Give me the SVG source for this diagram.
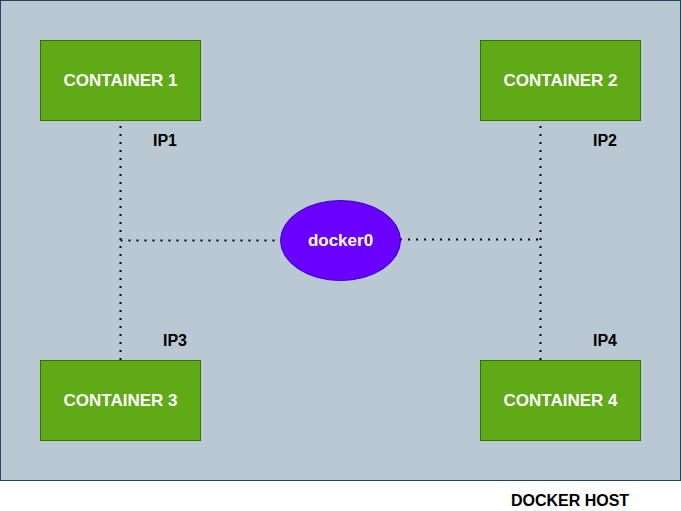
<svg xmlns="http://www.w3.org/2000/svg" width="681" height="511" viewBox="0 0 681 511">
<style>
text{font-family:"Liberation Sans",Arial,sans-serif;font-weight:bold;font-size:16px;text-anchor:middle;dominant-baseline:central}
.box{fill:#60a917;stroke:#2d7600;stroke-width:1}
.w{fill:#ffffff;font-size:17px}
.k{fill:#000000}
.dot{fill:none;stroke:#000000;stroke-width:2;stroke-dasharray:2 6}
</style>
<rect id="host" x="0.5" y="0.5" width="680" height="480" fill="#bac8d3" stroke="#23445d"/>
<g id="connectors">
<path class="dot" d="M120.5 126 V360"/>
<path class="dot" d="M120.5 240.5 H280"/>
<path class="dot" d="M540.5 126 V360"/>
<path class="dot" d="M400 239.5 H540"/>
</g>
<g id="container1"><rect class="box" x="40.5" y="40.5" width="160" height="80"/><text class="w" x="120.5" y="80.5">CONTAINER 1</text></g>
<g id="container2"><rect class="box" x="480.5" y="40.5" width="160" height="80"/><text class="w" x="560.5" y="80.5">CONTAINER 2</text></g>
<g id="container3"><rect class="box" x="40.5" y="360.5" width="160" height="80"/><text class="w" x="120.5" y="400.5">CONTAINER 3</text></g>
<g id="container4"><rect class="box" x="480.5" y="360.5" width="160" height="80"/><text class="w" x="560.5" y="400.5">CONTAINER 4</text></g>
<g id="docker0"><ellipse cx="340.5" cy="240.5" rx="60" ry="40" fill="#6a00ff" stroke="#3700cc"/><text class="w" x="340.5" y="240.5">docker0</text></g>
<g id="labels">
<text class="k" x="165" y="140.5">IP1</text>
<text class="k" x="605" y="140.5">IP2</text>
<text class="k" x="175" y="340.5">IP3</text>
<text class="k" x="605" y="340.5">IP4</text>
<text class="k" x="570" y="500.5">DOCKER HOST</text>
</g>
</svg>
